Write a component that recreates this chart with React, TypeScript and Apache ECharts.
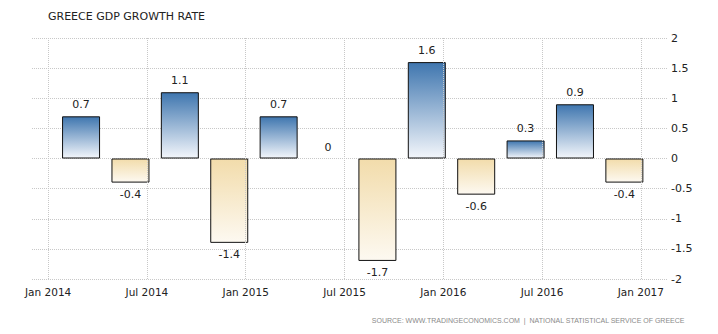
import React, { useEffect, useRef } from "react";
import * as echarts from "echarts";

// Quarter-end reference months (months since Jan 2014) and GDP growth values (%)
const quarterMonths = [2, 5, 8, 11, 14, 17, 20, 23, 26, 29, 32, 35];
const growthValues = [0.7, -0.4, 1.1, -1.4, 0.7, 0, -1.7, 1.6, -0.6, 0.3, 0.9, -0.4];
const tickMonths = [0, 6, 12, 18, 24, 30, 36];
const tickLabels = ["Jan 2014", "Jul 2014", "Jan 2015", "Jul 2015", "Jan 2016", "Jul 2016", "Jan 2017"];

const FONT = "DejaVu Sans";

export default function App() {
  const ref = useRef<HTMLDivElement>(null);
  useEffect(() => {
    document.body.style.margin = "0";
    if (!ref.current) return;
    const chart = echarts.init(ref.current, undefined, { renderer: "svg" });
    const posColor = new echarts.graphic.LinearGradient(0, 0, 0, 1, [
      { offset: 0, color: "#3f76af" },
      { offset: 1, color: "#f3f6fb" },
    ]);
    const negColor = new echarts.graphic.LinearGradient(0, 0, 0, 1, [
      { offset: 0, color: "#f2dcab" },
      { offset: 1, color: "#fdf9f1" },
    ]);
    const data = quarterMonths.map((m, i) => {
      const v = growthValues[i];
      return {
        value: [m, v],
        itemStyle: {
          color: v >= 0 ? posColor : negColor,
          borderWidth: v === 0 ? 0 : 1,
        },
        label: { position: v >= 0 ? "top" : "bottom" },
      };
    });
    chart.setOption({
      animation: false,
      backgroundColor: "#ffffff",
      textStyle: { fontFamily: FONT },
      title: {
        text: "GREECE GDP GROWTH RATE",
        left: 43,
        top: 6,
        textStyle: { fontSize: 11, fontWeight: "normal", color: "#222", fontFamily: FONT },
      },
      grid: { left: 32, right: 50, top: 38, bottom: 55 },
      xAxis: {
        type: "value",
        min: -0.98,
        max: 37.65,
        axisLine: { show: false },
        axisTick: { show: false },
        splitLine: { show: false },
        axisLabel: {
          customValues: tickMonths,
          formatter: (v: number) => tickLabels[tickMonths.indexOf(Math.round(v))] ?? "",
          color: "#222",
          fontSize: 10.5,
          fontFamily: FONT,
          margin: 7,
        },
      },
      yAxis: {
        type: "value",
        position: "right",
        min: -2,
        max: 2,
        interval: 0.5,
        axisLine: { show: false },
        axisTick: { show: false },
        axisLabel: { color: "#222", fontSize: 11, fontFamily: FONT, margin: 3, align: "left" },
        splitLine: { lineStyle: { type: "dotted", color: "#c8c8c8", width: 1 } },
      },
      series: [
        {
          type: "line",
          data: [],
          z: 1,
          silent: true,
          markLine: {
            silent: true,
            symbol: "none",
            label: { show: false },
            lineStyle: { type: "dotted", color: "#c8c8c8", width: 1 },
            data: tickMonths.map((m) => ({ xAxis: m })),
          },
        },
        {
          type: "bar",
          z: 3,
          barWidth: 38,
          data,
          itemStyle: { borderColor: "#111", borderWidth: 1 },
          label: {
            show: true,
            distance: 6,
            color: "#222",
            fontSize: 11,
            fontFamily: FONT,
            formatter: (p: any) => String(p.value[1]),
          },
        },
      ],
      graphic: [
        {
          type: "text",
          right: 33,
          top: 317,
          style: {
            text: "SOURCE: WWW.TRADINGECONOMICS.COM  |  NATIONAL STATISTICAL SERVICE OF GREECE",
            fontSize: 7,
            fontFamily: "Liberation Sans",
            fill: "#8a8a8a",
          },
        },
      ],
    });
    return () => chart.dispose();
  }, []);
  return <div ref={ref} style={{ width: 718, height: 334 }} />;
}
